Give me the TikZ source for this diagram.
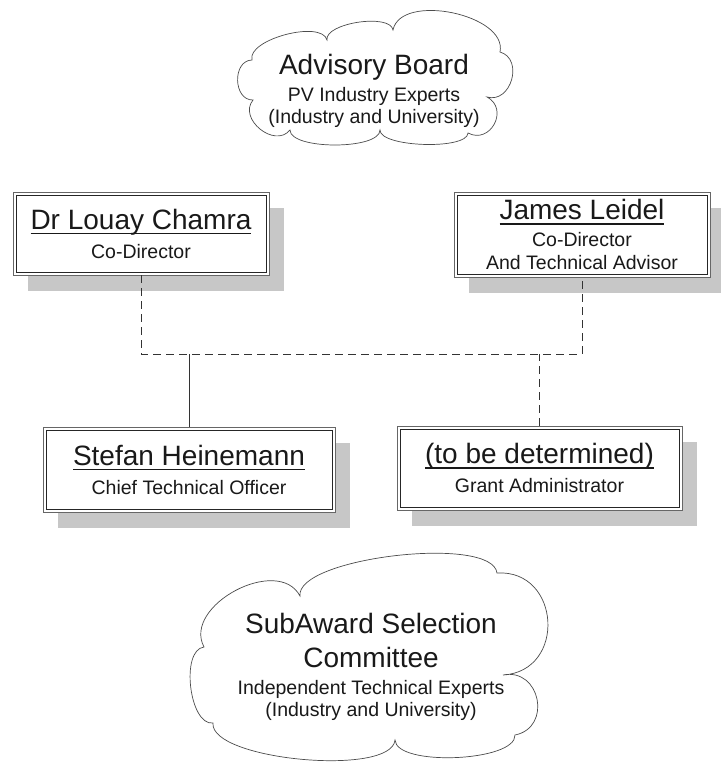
\documentclass[tikz,border=0pt]{standalone}
\usepackage{fontspec}
\setmainfont{Liberation Sans}
\usetikzlibrary{shadows, positioning}

\newcommand{\namesize}{\fontsize{28}{33}\selectfont}
\newcommand{\rolesize}{\fontsize{19.5}{23}\selectfont}
\newsavebox{\namebox}
\newcommand{\nameline}[1]{\sbox{\namebox}{#1}\rlap{\rule[-5pt]{\wd\namebox}{1.3pt}}\usebox{\namebox}}

\begin{document}
\begin{tikzpicture}[
      x=1pt, y=-1pt,
      person/.style={draw=black!60, line width=0.6pt, fill=white,
        align=center, inner sep=2pt, text=black!90, font=\rolesize,
        drop shadow={shadow xshift=15pt, shadow yshift=-16pt, fill=black!22, opacity=1},
        path picture={\draw[black!85, line width=0.8pt]
          ([shift={(3pt,3pt)}]path picture bounding box.south west) rectangle
          ([shift={(-3pt,-3pt)}]path picture bounding box.north east);}},
      cloudline/.style={draw=black!70, line width=0.7pt, fill=white},
      lobe/.style={bend left=90, looseness=#1},
      grouptext/.style={align=center, text=black!90, font=\rolesize},
      link/.style={draw=black!80, line width=0.8pt},
      hidden/.style={link, dash pattern=on 8pt off 5pt}
    ]
    \useasboundingbox (0,0) rectangle (720,765);

    % advisory board cloud
    \draw[cloudline] (253,100) to[lobe=1.27] (252,60) to[lobe=0.7] (327,40)
      to[lobe=0.66] (393,30) to[lobe=0.9] (500,52) to[lobe=1.37] (487,97)
      to[lobe=1.6] (468,133) to[lobe=0.5] (380,130) to[lobe=0.57] (290,130)
      to[lobe=1.3] (253,100) -- cycle;
    \node[grouptext] (board) at (374,91)
      {{\namesize Advisory Board}\\[4pt] PV Industry Experts\\[-1pt] (Industry and University)};

    % directors
    \node[person, minimum width=256pt, minimum height=83pt] (chamra) at (141,233.5)
      {{\namesize\nameline{Dr Louay Chamra}}\\[6pt] Co-Director};
    \node[person, minimum width=256pt, minimum height=85pt] (leidel) at (582,234.5)
      {{\namesize\nameline{James Leidel}}\\[4pt] Co-Director\\ And Technical Advisor};

    % staff
    \node[person, minimum width=292pt, minimum height=85pt] (heinemann) at (189,469.5)
      {{\namesize\nameline{Stefan Heinemann}}\\[6pt] Chief Technical Officer};
    \node[person, minimum width=285pt, minimum height=84pt] (admin) at (539.5,468)
      {{\namesize\nameline{(to be determined)}}\\[6pt] Grant Administrator};

    % selection committee cloud
    \draw[cloudline] (204,647) to[lobe=1.1] (300,596) to[lobe=0.5] (497,573)
      to[lobe=1.6] (503,675) to[lobe=1.6] (515,735) to[lobe=0.57] (395,740)
      to[lobe=0.52] (213,723) to[lobe=0.8] (204,647) -- cycle;
    \node[grouptext] (committee) at (371,666.5)
      {{\namesize SubAward Selection}\\[11pt] {\namesize Committee}\\[4pt]
       Independent Technical Experts\\[-1pt] (Industry and University)};

    \coordinate (bus) at (360,354);
    \draw[hidden] (chamra.south) -- (chamra.south |- bus) -- (leidel.south |- bus) -- (leidel.south);
    \draw[link] (heinemann.north) -- (heinemann.north |- bus);
    \draw[hidden] (admin.north) -- (admin.north |- bus);
  \end{tikzpicture}
\end{document}
